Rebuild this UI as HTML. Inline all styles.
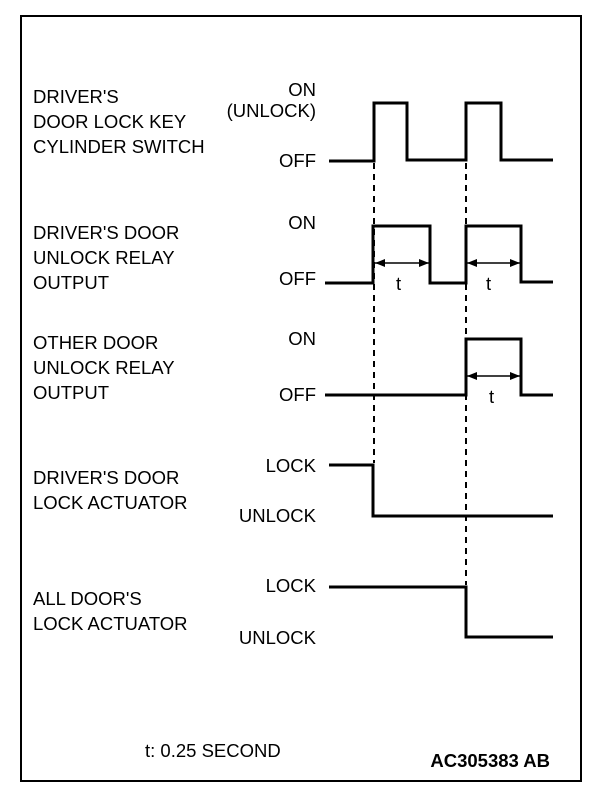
<!DOCTYPE html>
<html><head><style>
html,body{margin:0;padding:0;background:#fff;}
svg text{font-family:"Liberation Sans",Arial,sans-serif;font-size:18.5px;fill:#000;}
</style></head><body>
<svg width="608" height="806" viewBox="0 0 608 806" xmlns="http://www.w3.org/2000/svg">
<rect x="21" y="16" width="560" height="765" fill="none" stroke="#000" stroke-width="2"/>
<g>
<text x="33" y="103">DRIVER'S</text>
<text x="33" y="128">DOOR LOCK KEY</text>
<text x="33" y="153">CYLINDER SWITCH</text>
<text x="33" y="239">DRIVER'S DOOR</text>
<text x="33" y="264">UNLOCK RELAY</text>
<text x="33" y="289">OUTPUT</text>
<text x="33" y="349">OTHER DOOR</text>
<text x="33" y="374">UNLOCK RELAY</text>
<text x="33" y="399">OUTPUT</text>
<text x="33" y="484">DRIVER'S DOOR</text>
<text x="33" y="509">LOCK ACTUATOR</text>
<text x="33" y="605">ALL DOOR'S</text>
<text x="33" y="630">LOCK ACTUATOR</text>
</g>
<g text-anchor="end">
<text x="316" y="96">ON</text>
<text x="316" y="117">(UNLOCK)</text>
<text x="316" y="167">OFF</text>
<text x="316" y="229">ON</text>
<text x="316" y="285">OFF</text>
<text x="316" y="345">ON</text>
<text x="316" y="401">OFF</text>
<text x="316" y="472">LOCK</text>
<text x="316" y="522">UNLOCK</text>
<text x="316" y="592">LOCK</text>
<text x="316" y="644">UNLOCK</text>
</g>
<g fill="none" stroke="#000" stroke-width="3">
<polyline points="329,161 374,161 374,103 407,103 407,160 466,160 466,103 501,103 501,160 553,160"/>
<polyline points="325,283 373,283 373,226 430,226 430,283 466,283 466,226 521,226 521,282 553,282"/>
<polyline points="325,395 466,395 466,339 521,339 521,395 553,395"/>
<polyline points="329,465 373,465 373,516 553,516"/>
<polyline points="329,587 466,587 466,637 553,637"/>
</g>
<g stroke="#000" stroke-width="2" stroke-dasharray="6,5">
<line x1="374" y1="163" x2="374" y2="463"/>
<line x1="466" y1="163" x2="466" y2="585"/>
</g>
<g stroke="#000" stroke-width="1.5">
<line x1="375" y1="263" x2="429" y2="263"/>
<line x1="467" y1="263" x2="520" y2="263"/>
<line x1="467" y1="376" x2="520" y2="376"/>
</g>
<g fill="#000">
<polygon points="375,263 385,259 385,267"/><polygon points="429,263 419,259 419,267"/>
<polygon points="467,263 477,259 477,267"/><polygon points="520,263 510,259 510,267"/>
<polygon points="467,376 477,372 477,380"/><polygon points="520,376 510,372 510,380"/>
</g>
<text x="396" y="290">t</text>
<text x="486" y="290">t</text>
<text x="489" y="403">t</text>
<text x="145" y="757">t: 0.25 SECOND</text>
<text x="550" y="767" text-anchor="end" style="font-weight:bold">AC305383 AB</text>
</svg>
</body></html>
